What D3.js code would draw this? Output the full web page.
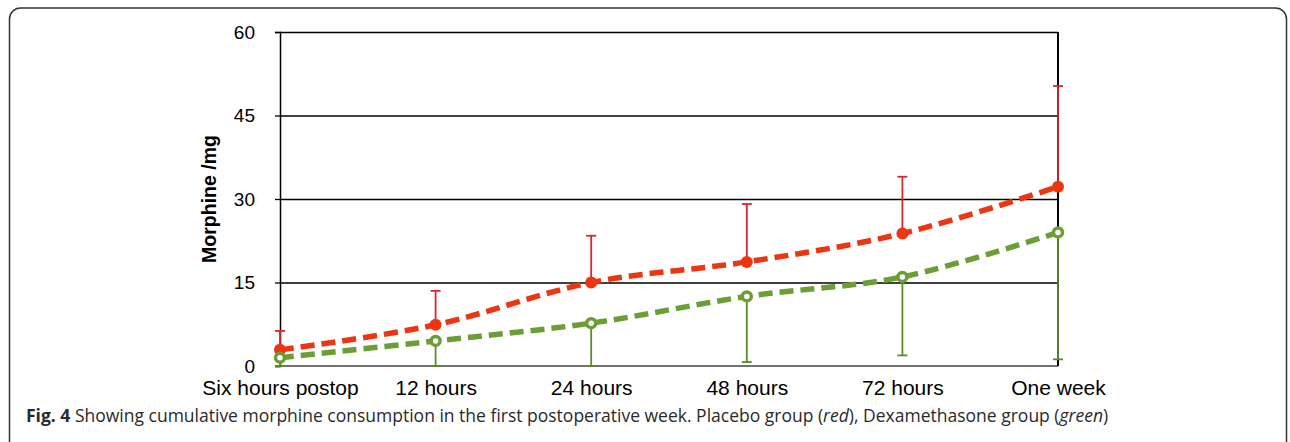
<!DOCTYPE html>
<html>
<head>
<meta charset="utf-8">
<script src="https://cdn.jsdelivr.net/npm/d3@7"></script>
<style>
  body { margin: 0; background: #fff; }
  svg { display: block; }
</style>
</head>
<body>
<div id="chart"></div>
<script>
// time points on the x axis
var categories = ["Six hours postop", "12 hours", "24 hours", "48 hours", "72 hours", "One week"];
// placebo group (red): mean and top of error bar
var placeboMean = [2.9, 7.4, 15.0, 18.7, 23.8, 32.2];
var placeboUpper = [6.3, 13.5, 23.4, 29.1, 34.0, 50.3];
// dexamethasone group (green): mean and bottom of error bar
var dexaMean = [1.5, 4.5, 7.7, 12.5, 16.0, 24.0];
var dexaLower = [0, 0, 0, 0.7, 1.9, 1.2];
var yTicks = [0, 15, 30, 45, 60];

function init(){
    var w = 1290, h = 442;
    var left = 280, right = 1058, top = 32, bottom = 366;

    var svg = d3.select("#chart").append("svg")
        .attr("width", w)
        .attr("height", h);

    // rounded frame of the figure
    svg.append("rect")
        .attr("x", 9.5).attr("y", 8)
        .attr("width", 1277).attr("height", 500)
        .attr("rx", 11)
        .attr("fill", "none")
        .attr("stroke", "#333")
        .attr("stroke-width", 1.5);

    var x = d3.scalePoint().domain(categories).range([left, right]);
    var y = d3.scaleLinear().domain([0, 60]).range([bottom, top]);

    // gridlines
    svg.append("g")
        .attr("transform", `translate(${left},0)`)
        .call(d3.axisLeft(y).tickValues(yTicks.slice(1)).tickSize(-(right - left)).tickFormat(""))
        .call(g => g.select(".domain").remove())
        .selectAll("line").attr("stroke", "#000").attr("stroke-width", 1.3);

    // y axis
    var yAxis = svg.append("g")
        .attr("transform", `translate(${left},0)`)
        .call(d3.axisLeft(y).tickValues(yTicks).tickSize(5).tickPadding(20));
    yAxis.select(".domain").attr("stroke", "#000").attr("stroke-width", 1.5);
    yAxis.selectAll("line").attr("stroke", "#000").attr("stroke-width", 1.3);
    yAxis.selectAll("text")
        .attr("font-family", "Liberation Sans, Arial, sans-serif")
        .attr("font-size", 19).attr("fill", "#000");

    // baseline at 0
    svg.append("line")
        .attr("x1", left - 5).attr("x2", right)
        .attr("y1", y(0)).attr("y2", y(0))
        .attr("stroke", "#444").attr("stroke-width", 1.5);

    // right border
    svg.append("line")
        .attr("x1", right).attr("x2", right)
        .attr("y1", y(60)).attr("y2", y(0))
        .attr("stroke", "#000").attr("stroke-width", 2);

    // x axis labels
    var xAxis = svg.append("g")
        .attr("transform", `translate(0,${bottom})`)
        .call(d3.axisBottom(x).tickSize(0).tickPadding(14));
    xAxis.select(".domain").remove();
    xAxis.selectAll("text")
        .attr("font-family", "Liberation Sans, Arial, sans-serif")
        .attr("font-size", 21).attr("fill", "#000");

    // y label
    svg.append("text")
        .attr("transform", `translate(216,${(top + bottom) / 2}) rotate(-90)`)
        .attr("text-anchor", "middle")
        .attr("font-family", "Liberation Sans, Arial, sans-serif")
        .attr("font-weight", "bold")
        .attr("font-size", 19.5)
        .text("Morphine /mg");

    var red = "#ee3512", redBar = "#d8262e";
    var green = "#6b9f35", greenBar = "#5a8c2a";

    // error bars
    function errBars(mean, end, color){
        var g = svg.append("g").attr("stroke", color).attr("stroke-width", 1.8);
        categories.forEach(function(c, i){
            g.append("line")
                .attr("x1", x(c)).attr("x2", x(c))
                .attr("y1", y(mean[i])).attr("y2", y(end[i]));
            g.append("line")
                .attr("x1", x(c) - 5).attr("x2", x(c) + 5)
                .attr("y1", y(end[i])).attr("y2", y(end[i]));
        });
    }
    errBars(placeboMean, placeboUpper, redBar);
    errBars(dexaMean, dexaLower, greenBar);

    // smoothed dashed lines
    var line = d3.line()
        .x(function(d, i){ return x(categories[i]); })
        .y(function(d){ return y(d); })
        .curve(d3.curveCatmullRom.alpha(0.5));

    svg.append("path")
        .attr("d", line(dexaMean))
        .attr("fill", "none")
        .attr("stroke", green)
        .attr("stroke-width", 5.5)
        .attr("stroke-dasharray", "14,7");

    svg.append("path")
        .attr("d", line(placeboMean))
        .attr("fill", "none")
        .attr("stroke", red)
        .attr("stroke-width", 5.5)
        .attr("stroke-dasharray", "14,7");

    // markers
    svg.selectAll("circle.pl")
        .data(placeboMean).enter()
        .append("circle").attr("class", "pl")
        .attr("cx", function(d, i){ return x(categories[i]); })
        .attr("cy", function(d){ return y(d); })
        .attr("r", 6)
        .attr("fill", red);

    svg.selectAll("circle.dx")
        .data(dexaMean).enter()
        .append("circle").attr("class", "dx")
        .attr("cx", function(d, i){ return x(categories[i]); })
        .attr("cy", function(d){ return y(d); })
        .attr("r", 4.5)
        .attr("fill", "#fff")
        .attr("stroke", green)
        .attr("stroke-width", 3.5);

    // caption
    var cap = svg.append("text")
        .attr("x", 26).attr("y", 422)
        .attr("font-family", "Open Sans, sans-serif")
        .attr("font-size", 17.5)
        .attr("fill", "#2a2a2a");
    cap.append("tspan").attr("font-weight", "bold").text("Fig. 4");
    cap.append("tspan").text(" Showing cumulative morphine consumption in the first postoperative week. Placebo group (");
    cap.append("tspan").attr("font-style", "italic").text("red");
    cap.append("tspan").text("), Dexamethasone group (");
    cap.append("tspan").attr("font-style", "italic").text("green");
    cap.append("tspan").text(")");
}
window.onload = init;
</script>
</body>
</html>
